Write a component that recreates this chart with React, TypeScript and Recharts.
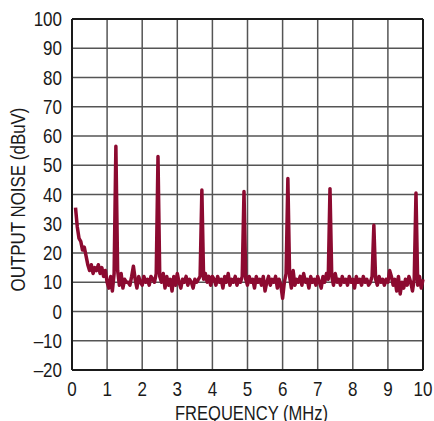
import { LineChart, Line, XAxis, YAxis, CartesianGrid, ReferenceLine } from 'recharts'

const FONT = '"Liberation Sans", Arial, sans-serif'
const INK = '#1a1a1a'
const GRID = '#555555'
const TRACE = '#8c0a30'

const xTicks = [0, 1, 2, 3, 4, 5, 6, 7, 8, 9, 10]
const yTicks = [-20, -10, 0, 10, 20, 30, 40, 50, 60, 70, 80, 90, 100]

// sweep points, MHz
const freqMHz = [
  0.1, 0.15, 0.2, 0.25, 0.3, 0.35, 0.4, 0.45, 0.5, 0.55, 0.6, 0.65, 0.7, 0.75, 0.8, 0.85, 0.9, 0.95,
  1.0, 1.05, 1.1, 1.15, 1.2, 1.25, 1.3, 1.35, 1.4, 1.45, 1.5, 1.55, 1.6, 1.65, 1.7, 1.75, 1.8, 1.85, 1.9, 1.95,
  2.0, 2.05, 2.1, 2.15, 2.2, 2.25, 2.3, 2.35, 2.4, 2.45, 2.5, 2.55, 2.6, 2.65, 2.7, 2.75, 2.8, 2.85, 2.9, 2.95,
  3.0, 3.05, 3.1, 3.15, 3.2, 3.25, 3.3, 3.35, 3.4, 3.45, 3.5, 3.55, 3.6, 3.65, 3.7, 3.75, 3.8, 3.85, 3.9, 3.95,
  4.0, 4.05, 4.1, 4.15, 4.2, 4.25, 4.3, 4.35, 4.4, 4.45, 4.5, 4.55, 4.6, 4.65, 4.7, 4.75, 4.8, 4.85, 4.9, 4.95,
  5.0, 5.05, 5.1, 5.15, 5.2, 5.25, 5.3, 5.35, 5.4, 5.45, 5.5, 5.55, 5.6, 5.65, 5.7, 5.75, 5.8, 5.85, 5.9, 5.95,
  6.0, 6.05, 6.1, 6.15, 6.2, 6.25, 6.3, 6.35, 6.4, 6.45, 6.5, 6.55, 6.6, 6.65, 6.7, 6.75, 6.8, 6.85, 6.9, 6.95,
  7.0, 7.05, 7.1, 7.15, 7.2, 7.25, 7.3, 7.35, 7.4, 7.45, 7.5, 7.55, 7.6, 7.65, 7.7, 7.75, 7.8, 7.85, 7.9, 7.95,
  8.0, 8.05, 8.1, 8.15, 8.2, 8.25, 8.3, 8.35, 8.4, 8.45, 8.5, 8.55, 8.6, 8.65, 8.7, 8.75, 8.8, 8.85, 8.9, 8.95,
  9.0, 9.05, 9.1, 9.15, 9.2, 9.25, 9.3, 9.35, 9.4, 9.45, 9.5, 9.55, 9.6, 9.65, 9.7, 9.75, 9.8, 9.85, 9.9, 9.95,
  10.0,
]

// output noise, dBuV
const noiseDbuv = [
  35.5, 29, 25, 24, 21, 22, 19, 16, 14, 16, 13, 15, 14, 16, 13, 15, 12, 14,
  10, 8, 12, 7, 13, 56.5, 14, 9, 13, 8, 11, 10, 10, 9, 12, 15.5, 11, 8, 12, 10,
  9, 12, 10, 11, 9, 12, 11, 10, 13, 53, 12, 10, 13, 8, 12, 9, 11, 7, 12, 9,
  13, 10, 8, 11, 10, 12, 9, 11, 10, 8, 11, 10, 11, 12, 41.5, 11, 13, 10, 12, 9,
  12, 11, 9, 12, 10, 11, 8, 12, 10, 13, 9, 11, 10, 12, 9, 11, 10, 12, 41, 11,
  9, 12, 10, 11, 8, 12, 10, 11, 9, 12, 7, 10, 12, 9, 11, 10, 12, 8, 11, 9,
  4.5, 10, 13, 45.5, 12, 8, 14, 9, 11, 10, 12, 9, 13, 10, 11, 8, 12, 10, 11, 9,
  12, 10, 8, 12, 10, 13, 11, 42, 12, 9, 13, 10, 11, 9, 12, 10, 11, 9, 12, 10,
  11, 8, 12, 10, 11, 9, 12, 10, 11, 9, 10, 12, 29.5, 11, 9, 12, 10, 11, 9, 11,
  10, 14, 12, 9, 11, 7, 12, 6, 10, 8, 11, 9, 12, 10, 7, 11, 40.5, 9, 12, 8,
  11,
]

const data = freqMHz.map((f, i) => ({ f, noise: noiseDbuv[i] }))

// the original uses a condensed face; squeeze the regular one horizontally
const fmt = (v: number) => String(v).replace('-', '\u2013')

function YTick({ x, y, payload }: any) {
  return (
    <g transform={`translate(${x},${y})`}>
      <text transform="scale(0.85,1)" dy="0.36em" textAnchor="end" fontSize={20} fontFamily={FONT} fill={INK}>
        {fmt(payload.value)}
      </text>
    </g>
  )
}

function XTick({ x, y, payload }: any) {
  return (
    <g transform={`translate(${x},${y})`}>
      <text transform="scale(0.85,1)" dy="0.71em" textAnchor="middle" fontSize={20} fontFamily={FONT} fill={INK}>
        {fmt(payload.value)}
      </text>
    </g>
  )
}

function YTitle({ viewBox }: any) {
  const cx = viewBox.x + 18
  const cy = viewBox.y + viewBox.height / 2 + 5
  return (
    <text
      x={cx}
      y={cy}
      transform={`rotate(-90, ${cx}, ${cy})`}
      textAnchor="middle"
      dominantBaseline="central"
      fontSize={20}
      fontFamily={FONT}
      fill={INK}
      textLength={184}
      lengthAdjust="spacingAndGlyphs"
    >
      OUTPUT NOISE (dBuV)
    </text>
  )
}

function XTitle({ viewBox }: any) {
  return (
    <text
      x={viewBox.x + viewBox.width / 2 + 4}
      y={viewBox.y + viewBox.height - 1}
      textAnchor="middle"
      fontSize={20}
      fontFamily={FONT}
      fill={INK}
      textLength={153}
      lengthAdjust="spacingAndGlyphs"
    >
      FREQUENCY (MHz)
    </text>
  )
}

export default function App() {
  return (
    <div style={{ position: 'absolute', left: 0, top: 0, width: 434, height: 421, background: '#fff' }}>
      <LineChart width={434} height={421} data={data} margin={{ top: 19, right: 11, bottom: 0, left: 0 }}>
        <CartesianGrid stroke={GRID} strokeWidth={1.5} />
        <XAxis
          dataKey="f"
          type="number"
          domain={[0, 10]}
          ticks={xTicks}
          height={51}
          tick={<XTick />}
          tickSize={0}
          tickMargin={12}
          axisLine={{ stroke: INK, strokeWidth: 2 }}
          label={{ content: XTitle }}
        />
        <YAxis
          type="number"
          domain={[-20, 100]}
          ticks={yTicks}
          width={72}
          tick={<YTick />}
          tickSize={0}
          tickMargin={10}
          axisLine={{ stroke: INK, strokeWidth: 2 }}
          label={{ content: YTitle }}
        />
        <ReferenceLine x={10} stroke={INK} strokeWidth={2} />
        <ReferenceLine y={100} stroke={INK} strokeWidth={2} />
        <Line
          type="linear"
          dataKey="noise"
          stroke={TRACE}
          strokeWidth={3.5}
          strokeLinejoin="round"
          dot={false}
          isAnimationActive={false}
        />
      </LineChart>
    </div>
  )
}
